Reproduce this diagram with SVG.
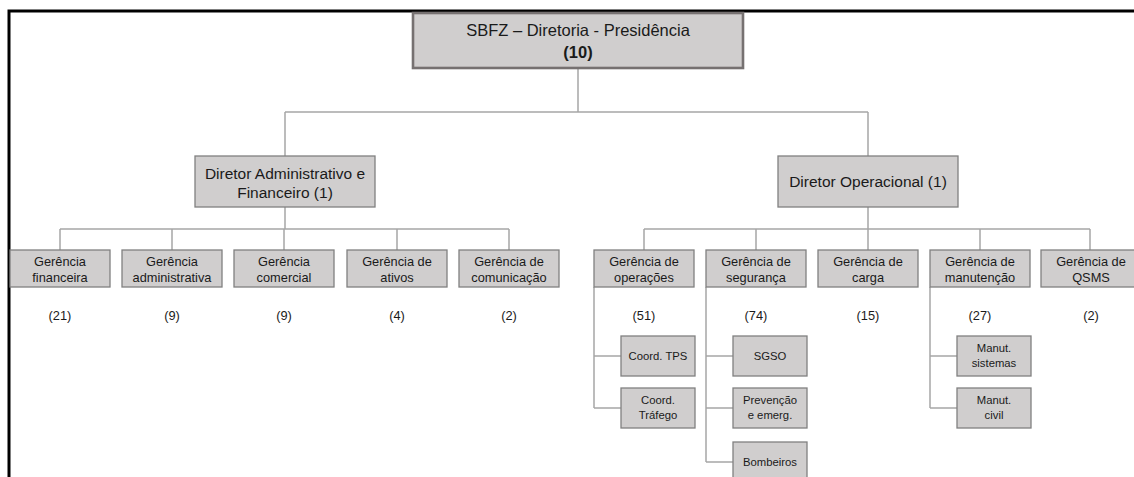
<svg xmlns="http://www.w3.org/2000/svg" width="1134" height="477" viewBox="0 0 1134 477">
<style>
.box{fill:#d0cece;stroke:#808080;stroke-width:1.3}
.top{fill:#d0cece;stroke:#767171;stroke-width:2.6}
.t{font-family:"Liberation Sans",Arial,sans-serif;fill:#1a1a1a;text-anchor:middle}
.lg{font-size:16.5px}
.md{font-size:15.5px}
.sm{font-size:12.8px}
.xs{font-size:11.3px}
.c{fill:none;stroke:#a6a6a6;stroke-width:1.5}
</style>
<rect width="1134" height="477" fill="#ffffff"/>
<path d="M9,477 V11 H1134" fill="none" stroke="#000" stroke-width="3"/>
<g id="connectors">
<path class="c" d="M578,68 V112 M285,112 H868 M285,112 V156 M868,112 V156"/>
<path class="c" d="M285,207 V229 M60,229 H509 M60,229 V250 M172,229 V250 M284,229 V250 M397,229 V250 M509,229 V250"/>
<path class="c" d="M868,207 V229 M644,229 H1090 M644,229 V250 M756,229 V250 M868,229 V250 M980,229 V250 M1090,229 V250"/>
<path class="c" d="M594,287 V408 M594,356 H621 M594,408 H621"/>
<path class="c" d="M706,287 V462 M706,356 H733 M706,408 H733 M706,462 H733"/>
<path class="c" d="M930,287 V408 M930,356 H957 M930,408 H957"/>
</g>
<g id="presidencia"><rect class="top" x="413" y="13" width="330" height="55"/><text class="t lg" x="578" y="36">SBFZ – Diretoria - Presidência</text><text class="t lg" x="578" y="58" font-weight="bold">(10)</text></g>
<g id="dir-adm"><rect class="box" x="195" y="156" width="180" height="51"/><text class="t md" x="285" y="179">Diretor Administrativo e</text><text class="t md" x="285" y="198">Financeiro (1)</text></g>
<g id="dir-op"><rect class="box" x="778" y="156" width="180" height="51"/><text class="t md" x="868" y="187">Diretor Operacional (1)</text></g>
<g id="g-fin"><rect class="box" x="10" y="250" width="100" height="37"/><text class="t sm" x="60" y="266">Gerência</text><text class="t sm" x="60" y="282">financeira</text><text class="t sm" x="60" y="320">(21)</text></g>
<g id="g-adm"><rect class="box" x="122" y="250" width="100" height="37"/><text class="t sm" x="172" y="266">Gerência</text><text class="t sm" x="172" y="282">administrativa</text><text class="t sm" x="172" y="320">(9)</text></g>
<g id="g-com"><rect class="box" x="234" y="250" width="100" height="37"/><text class="t sm" x="284" y="266">Gerência</text><text class="t sm" x="284" y="282">comercial</text><text class="t sm" x="284" y="320">(9)</text></g>
<g id="g-ati"><rect class="box" x="347" y="250" width="100" height="37"/><text class="t sm" x="397" y="266">Gerência de</text><text class="t sm" x="397" y="282">ativos</text><text class="t sm" x="397" y="320">(4)</text></g>
<g id="g-comu"><rect class="box" x="459" y="250" width="100" height="37"/><text class="t sm" x="509" y="266">Gerência de</text><text class="t sm" x="509" y="282">comunicação</text><text class="t sm" x="509" y="320">(2)</text></g>
<g id="g-ope"><rect class="box" x="594" y="250" width="100" height="37"/><text class="t sm" x="644" y="266">Gerência de</text><text class="t sm" x="644" y="282">operações</text><text class="t sm" x="644" y="320">(51)</text></g>
<g id="g-seg"><rect class="box" x="706" y="250" width="100" height="37"/><text class="t sm" x="756" y="266">Gerência de</text><text class="t sm" x="756" y="282">segurança</text><text class="t sm" x="756" y="320">(74)</text></g>
<g id="g-car"><rect class="box" x="818" y="250" width="100" height="37"/><text class="t sm" x="868" y="266">Gerência de</text><text class="t sm" x="868" y="282">carga</text><text class="t sm" x="868" y="320">(15)</text></g>
<g id="g-man"><rect class="box" x="930" y="250" width="100" height="37"/><text class="t sm" x="980" y="266">Gerência de</text><text class="t sm" x="980" y="282">manutenção</text><text class="t sm" x="980" y="320">(27)</text></g>
<g id="g-qsms"><rect class="box" x="1041" y="250" width="100" height="37"/><text class="t sm" x="1091" y="266">Gerência de</text><text class="t sm" x="1091" y="282">QSMS</text><text class="t sm" x="1091" y="320">(2)</text></g>
<g id="c-tps"><rect class="box" x="621" y="336" width="74" height="40"/><text class="t xs" x="658" y="360">Coord. TPS</text></g>
<g id="c-traf"><rect class="box" x="621" y="388" width="74" height="40"/><text class="t xs" x="658" y="404">Coord.</text><text class="t xs" x="658" y="419">Tráfego</text></g>
<g id="sgso"><rect class="box" x="733" y="336" width="74" height="40"/><text class="t xs" x="770" y="360">SGSO</text></g>
<g id="prev"><rect class="box" x="733" y="388" width="74" height="40"/><text class="t xs" x="770" y="404">Prevenção</text><text class="t xs" x="770" y="419">e emerg.</text></g>
<g id="bomb"><rect class="box" x="733" y="442" width="74" height="40"/><text class="t xs" x="770" y="466">Bombeiros</text></g>
<g id="m-sis"><rect class="box" x="957" y="336" width="74" height="40"/><text class="t xs" x="994" y="352">Manut.</text><text class="t xs" x="994" y="367">sistemas</text></g>
<g id="m-civ"><rect class="box" x="957" y="388" width="74" height="40"/><text class="t xs" x="994" y="404">Manut.</text><text class="t xs" x="994" y="419">civil</text></g>
</svg>
